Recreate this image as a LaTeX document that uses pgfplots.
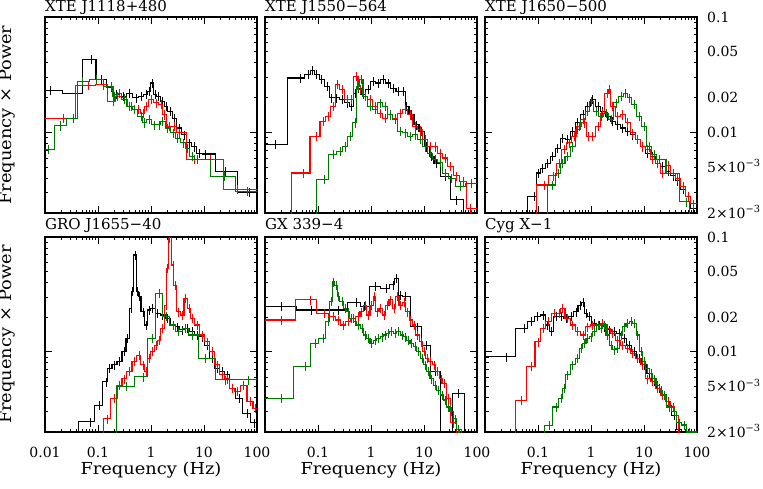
\documentclass[border=0pt]{standalone}
\usepackage{fontspec}
\setmainfont{DejaVu Serif}
\newfontfamily\lblfont{DejaVu Serif}[FakeStretch=1.08]
\usepackage{pgfplots}
\pgfplotsset{compat=1.18}
\definecolor{pgreen}{RGB}{0,120,0}
\definecolor{pred}{RGB}{255,0,0}

\begin{document}
\fontsize{14}{16}\selectfont
\begin{tikzpicture}[font=\fontsize{14}{16}\selectfont]
\path[use as bounding box] (0,0) rectangle (763pt,488pt);

% ---------------- XTE J1118+480
\begin{axis}[xmode=log, ymode=log, scale only axis, width=212pt, height=196pt,
  xmin=0.01, xmax=100, ymin=0.002, ymax=0.1,
  xtick={0.01,0.1,1,10,100},
  minor xtick={0.02,0.03,0.04,0.05,0.06,0.07,0.08,0.09,0.2,0.3,0.4,0.5,0.6,0.7,0.8,0.9,2,3,4,5,6,7,8,9,20,30,40,50,60,70,80,90},
  ytick={0.01,0.1},
  minor ytick={0.003,0.004,0.005,0.006,0.007,0.008,0.009,0.02,0.03,0.04,0.05,0.06,0.07,0.08,0.09},
  xticklabels={}, yticklabels={},
  tick align=inside, major tick length=7pt, minor tick length=3.5pt,
  tick style={black, line width=0.9pt}, axis line style={line width=1.1pt},
  title style={at={(0,1)}, anchor=base west, inner sep=0pt, yshift=-0.5pt, font=\fontsize{15}{17}\selectfont},
  ylabel style={at={(axis description cs:-0.1415,0.5)}, anchor=south, inner sep=0pt, font=\lblfont\fontsize{16.5}{18}\selectfont},
  ylabel={Frequency × Power},
  at={(45pt,275pt)}, anchor=south west, title={XTE J1118+480}]
\addplot[black, line width=1.1pt, const plot mark mid, error bars/.cd, y dir=both, y fixed relative=0.09, error mark=none] table {
0.007 0.0231
0.0124 0.0231
0.0365 0.0219
0.073 0.0427
0.115 0.0286
0.178 0.0247
0.22 0.0212
0.295 0.0205
0.393 0.0219
0.52 0.0199
0.65 0.0205
0.80 0.0212
0.93 0.0227
1.07 0.0268
1.20 0.0212
1.39 0.0205
1.66 0.0186
1.91 0.0168
2.28 0.0152
2.75 0.0133
3.4 0.0109
4.2 0.0095
5.3 0.0081
6.5 0.0075
8.0 0.0066
10.6 0.0065
25.4 0.0046
70 0.0030
130 0.0030
};
\addplot[pred, line width=1.1pt, const plot mark mid, error bars/.cd, y dir=both, y fixed relative=0.09, error mark=none] table {
0.007 0.0133
0.022 0.0133
0.065 0.0254
0.124 0.0258
0.19 0.0186
0.235 0.0205
0.316 0.0192
0.42 0.0168
0.57 0.0157
0.70 0.0147
0.80 0.0168
1.0 0.0192
1.24 0.0180
1.55 0.0174
1.78 0.0142
2.2 0.0113
2.75 0.0113
3.4 0.0099
6.5 0.0058
13.3 0.0058
42 0.0032
130 0.0032
};
\addplot[pgreen, line width=1.1pt, const plot mark mid, error bars/.cd, y dir=both, y fixed relative=0.09, error mark=none] table {
0.007 0.00708
0.0115 0.00708
0.0191 0.0114
0.034 0.0133
0.051 0.0277
0.093 0.0286
0.18 0.0251
0.205 0.0205
0.25 0.0219
0.316 0.0199
0.39 0.0168
0.49 0.0157
0.65 0.0138
0.75 0.0121
0.93 0.0129
1.16 0.0116
1.43 0.0116
1.66 0.0124
2.05 0.0109
2.57 0.0099
3.16 0.0089
4.0 0.0081
4.9 0.0073
6.0 0.0062
7.5 0.0058
23.7 0.00416
64.9 0.00308
130 0.00308
};
\end{axis}

% ---------------- XTE J1550-564
\begin{axis}[xmode=log, ymode=log, scale only axis, width=212pt, height=196pt,
  xmin=0.01, xmax=100, ymin=0.002, ymax=0.1,
  xtick={0.01,0.1,1,10,100},
  minor xtick={0.02,0.03,0.04,0.05,0.06,0.07,0.08,0.09,0.2,0.3,0.4,0.5,0.6,0.7,0.8,0.9,2,3,4,5,6,7,8,9,20,30,40,50,60,70,80,90},
  ytick={0.01,0.1},
  minor ytick={0.003,0.004,0.005,0.006,0.007,0.008,0.009,0.02,0.03,0.04,0.05,0.06,0.07,0.08,0.09},
  xticklabels={}, yticklabels={},
  tick align=inside, major tick length=7pt, minor tick length=3.5pt,
  tick style={black, line width=0.9pt}, axis line style={line width=1.1pt},
  title style={at={(0,1)}, anchor=base west, inner sep=0pt, yshift=-0.5pt, font=\fontsize{15}{17}\selectfont},
  at={(265pt,275pt)}, anchor=south west, title={XTE J1550−564}]
\addplot[black, line width=1.1pt, const plot mark mid, error bars/.cd, y dir=both, y fixed relative=0.09, error mark=none] table {
0.007 0.00781
0.0154 0.00781
0.0457 0.0296
0.066 0.0316
0.079 0.0343
0.094 0.0316
0.117 0.0286
0.146 0.0251
0.181 0.0199
0.225 0.0199
0.28 0.0192
0.35 0.0180
0.43 0.0168
0.50 0.0219
0.58 0.0242
0.72 0.0212
0.89 0.0235
1.11 0.0277
1.38 0.0268
1.71 0.0286
2.13 0.0268
2.65 0.0242
3.3 0.0227
4.1 0.0227
4.7 0.0168
5.8 0.0142
7.2 0.0116
9.0 0.0102
11.2 0.0075
13.9 0.0062
17.2 0.0054
24.9 0.00416
41 0.0026
73 0.0015
130 0.0015
};
\addplot[pred, line width=1.1pt, const plot mark mid, error bars/.cd, y dir=both, y fixed relative=0.09, error mark=none] table {
0.007 0.0015
0.019 0.0015
0.053 0.00444
0.094 0.0092
0.126 0.0125
0.157 0.0138
0.195 0.0168
0.233 0.0259
0.28 0.0234
0.35 0.0192
0.43 0.0192
0.52 0.0306
0.62 0.0234
0.77 0.0205
0.96 0.0192
1.19 0.0168
1.48 0.0147
1.84 0.0133
2.29 0.0142
2.8 0.0133
3.5 0.0147
4.4 0.0157
5.4 0.0142
6.8 0.0113
8.4 0.0105
10.5 0.0087
12.9 0.0075
16.1 0.0075
20 0.0066
24.9 0.0060
31 0.0051
41 0.0042
55 0.00376
73 0.0022
130 0.0022
};
\addplot[pgreen, line width=1.1pt, const plot mark mid, error bars/.cd, y dir=both, y fixed relative=0.09, error mark=none] table {
0.007 0.0015
0.07 0.0015
0.130 0.00389
0.195 0.0064
0.26 0.00684
0.32 0.0075
0.40 0.0092
0.50 0.0121
0.58 0.0251
0.65 0.0286
0.77 0.0205
0.96 0.0168
1.19 0.0157
1.48 0.0180
1.84 0.0168
2.29 0.0142
2.8 0.0129
3.5 0.0102
4.4 0.0099
5.4 0.0092
6.8 0.0095
8.4 0.0087
10.5 0.0075
12.9 0.0066
16.1 0.0058
20 0.0055
25 0.0044
33 0.0040
48 0.0034
79 0.0036
130 0.0036
};
\end{axis}

% ---------------- XTE J1650-500
\begin{axis}[xmode=log, ymode=log, scale only axis, width=212pt, height=196pt,
  xmin=0.01, xmax=100, ymin=0.002, ymax=0.1,
  xtick={0.01,0.1,1,10,100},
  minor xtick={0.02,0.03,0.04,0.05,0.06,0.07,0.08,0.09,0.2,0.3,0.4,0.5,0.6,0.7,0.8,0.9,2,3,4,5,6,7,8,9,20,30,40,50,60,70,80,90},
  ytick={0.01,0.1}, yticklabels={0.01,0.1},
  minor ytick={0.003,0.004,0.006,0.007,0.008,0.009,0.03,0.04,0.06,0.07,0.08,0.09},
  extra y ticks={0.002,0.005,0.02,0.05},
  extra y tick labels={2×10\textsuperscript{−3},5×10\textsuperscript{−3},0.02,0.05},
  extra y tick style={major tick length=3.5pt},
  yticklabel pos=right, ytick pos=both,
  xticklabels={},
  tick align=inside, major tick length=7pt, minor tick length=3.5pt,
  tick style={black, line width=0.9pt}, axis line style={line width=1.1pt},
  yticklabel style={anchor=base west, inner sep=0pt, xshift=10pt, yshift=-5pt},
  title style={at={(0,1)}, anchor=base west, inner sep=0pt, yshift=-0.5pt, font=\fontsize{15}{17}\selectfont},
  at={(485pt,275pt)}, anchor=south west, title={XTE J1650−500}]
\addplot[black, line width=1.1pt, const plot mark mid, error bars/.cd, y dir=both, y fixed relative=0.09, error mark=none] table {
0.007 0.0015
0.048 0.0015
0.085 0.0028
0.101 0.00444
0.122 0.0049
0.152 0.0054
0.189 0.0062
0.235 0.0073
0.292 0.0089
0.363 0.0087
0.45 0.0102
0.56 0.0121
0.70 0.0142
0.865 0.0168
1.07 0.0192
1.34 0.0168
1.66 0.0152
2.06 0.0138
2.56 0.0125
3.18 0.0116
3.96 0.0109
4.9 0.0102
6.1 0.0095
7.6 0.0087
9.4 0.0075
11.7 0.0066
14.5 0.0062
18.1 0.0054
22.5 0.0051
28 0.0046
34.8 0.0042
43 0.0038
54 0.0032
67 0.0028
83 0.0022
130 0.0022
};
\addplot[pred, line width=1.1pt, const plot mark mid, error bars/.cd, y dir=both, y fixed relative=0.09, error mark=none] table {
0.007 0.0015
0.064 0.0015
0.132 0.0035
0.195 0.0042
0.25 0.0054
0.31 0.0071
0.39 0.0081
0.48 0.0092
0.60 0.0113
0.75 0.0121
0.89 0.0092
1.07 0.0092
1.34 0.0113
1.66 0.0147
2.0 0.0219
2.2 0.0234
2.56 0.0168
3.18 0.0138
3.96 0.0142
4.9 0.0121
6.1 0.0099
7.6 0.0087
9.4 0.0075
11.7 0.0071
14.5 0.0058
18.1 0.0054
22.5 0.0044
28 0.0052
34.8 0.0044
43 0.0040
54 0.0034
67 0.0028
83 0.0024
130 0.0024
};
\addplot[pgreen, line width=1.1pt, const plot mark mid, error bars/.cd, y dir=both, y fixed relative=0.09, error mark=none] table {
0.007 0.0015
0.12 0.0015
0.189 0.0035
0.242 0.0044
0.29 0.0054
0.36 0.0062
0.45 0.0075
0.56 0.0106
0.70 0.0129
0.865 0.0152
1.0 0.0186
1.24 0.0152
1.54 0.0138
1.92 0.0147
2.38 0.0129
2.96 0.0180
3.68 0.0205
4.4 0.0219
5.3 0.0199
6.6 0.0174
8.2 0.0138
10.1 0.0113
12.6 0.0075
15.6 0.0064
19.4 0.0058
34.8 0.0044
62 0.0025
83 0.0018
130 0.0018
};
\end{axis}

% ---------------- GRO J1655-40
\begin{axis}[xmode=log, ymode=log, scale only axis, width=212pt, height=195pt,
  xmin=0.01, xmax=100, ymin=0.002, ymax=0.1,
  xtick={0.01,0.1,1,10,100}, xticklabels={0.01,0.1,1,10,100},
  minor xtick={0.02,0.03,0.04,0.05,0.06,0.07,0.08,0.09,0.2,0.3,0.4,0.5,0.6,0.7,0.8,0.9,2,3,4,5,6,7,8,9,20,30,40,50,60,70,80,90},
  ytick={0.01,0.1},
  minor ytick={0.003,0.004,0.005,0.006,0.007,0.008,0.009,0.02,0.03,0.04,0.05,0.06,0.07,0.08,0.09},
  yticklabels={},
  tick align=inside, major tick length=7pt, minor tick length=3.5pt,
  tick style={black, line width=0.9pt}, axis line style={line width=1.1pt},
  xticklabel style={anchor=base, inner sep=0pt, yshift=-25pt},
  title style={at={(0,1)}, anchor=base west, inner sep=0pt, yshift=1.5pt, font=\fontsize{15}{17}\selectfont},
  ylabel style={at={(axis description cs:-0.1415,0.5)}, anchor=south, inner sep=0pt, font=\lblfont\fontsize{16.5}{18}\selectfont},
  ylabel={Frequency × Power},
  xlabel style={at={(axis description cs:0.5,0)}, anchor=base, inner sep=0pt, yshift=-42pt, font=\lblfont\fontsize{16.5}{18}\selectfont},
  xlabel={Frequency (Hz)},
  at={(45pt,56pt)}, anchor=south west, title={GRO J1655−40}]
\addplot[black, line width=1.1pt, const plot mark mid, error bars/.cd, y dir=both, y fixed relative=0.09, error mark=none] table {
0.007 0.0015
0.0255 0.0015
0.07 0.00245
0.107 0.00343
0.143 0.00547
0.165 0.00716
0.205 0.0077
0.255 0.0082
0.316 0.0100
0.36 0.0131
0.42 0.0239
0.45 0.0334
0.50 0.0697
0.55 0.0334
0.60 0.0302
0.70 0.0223
0.80 0.0171
0.93 0.0231
1.07 0.0239
1.33 0.0216
1.66 0.0209
2.05 0.0195
2.57 0.0171
3.16 0.0165
3.9 0.0155
4.9 0.0160
6.0 0.0150
7.5 0.0140
9.3 0.0135
11.5 0.0114
14.3 0.0088
17.8 0.0072
22 0.0067
27 0.0063
34 0.0048
46 0.0039
64 0.0029
90 0.0024
130 0.0024
};
\addplot[pred, line width=1.1pt, const plot mark mid, error bars/.cd, y dir=both, y fixed relative=0.09, error mark=none] table {
0.007 0.0015
0.11 0.0015
0.15 0.0026
0.205 0.0039
0.255 0.0051
0.316 0.0058
0.39 0.0067
0.49 0.0082
0.59 0.0093
0.70 0.0077
0.80 0.0067
0.93 0.0088
1.07 0.0100
1.23 0.0114
1.43 0.0126
1.66 0.0160
1.9 0.0255
2.05 0.0533
2.2 0.097
2.3 0.11
2.57 0.057
2.8 0.038
3.3 0.0223
3.9 0.0209
4.5 0.0292
5.2 0.0239
6.0 0.0195
7.5 0.0171
9.3 0.0140
11.5 0.0122
14.3 0.0100
17.8 0.0077
22 0.0063
27 0.0058
34 0.0048
42 0.0045
56 0.0051
75 0.0037
94 0.0032
130 0.0032
};
\addplot[pgreen, line width=1.1pt, const plot mark mid, error bars/.cd, y dir=both, y fixed relative=0.09, error mark=none] table {
0.007 0.0015
0.15 0.0015
0.34 0.00496
0.70 0.00605
1.07 0.0131
1.43 0.0323
1.9 0.0202
2.57 0.0171
3.3 0.0150
4.5 0.0160
6.0 0.0140
10.7 0.0088
25.6 0.0057
69 0.0057
130 0.0057
};
\end{axis}

% ---------------- GX 339-4
\begin{axis}[xmode=log, ymode=log, scale only axis, width=212pt, height=195pt,
  xmin=0.01, xmax=100, ymin=0.002, ymax=0.1,
  xtick={0.01,0.1,1,10,100}, xticklabels={,0.1,1,10,100},
  minor xtick={0.02,0.03,0.04,0.05,0.06,0.07,0.08,0.09,0.2,0.3,0.4,0.5,0.6,0.7,0.8,0.9,2,3,4,5,6,7,8,9,20,30,40,50,60,70,80,90},
  ytick={0.01,0.1},
  minor ytick={0.003,0.004,0.005,0.006,0.007,0.008,0.009,0.02,0.03,0.04,0.05,0.06,0.07,0.08,0.09},
  yticklabels={},
  tick align=inside, major tick length=7pt, minor tick length=3.5pt,
  tick style={black, line width=0.9pt}, axis line style={line width=1.1pt},
  xticklabel style={anchor=base, inner sep=0pt, yshift=-25pt},
  title style={at={(0,1)}, anchor=base west, inner sep=0pt, yshift=1.5pt, font=\fontsize{15}{17}\selectfont},
  xlabel style={at={(axis description cs:0.5,0)}, anchor=base, inner sep=0pt, yshift=-42pt, font=\lblfont\fontsize{16.5}{18}\selectfont},
  xlabel={Frequency (Hz)},
  at={(265pt,56pt)}, anchor=south west, title={GX 339−4}]
\addplot[black, line width=1.1pt, const plot mark mid, error bars/.cd, y dir=both, y fixed relative=0.09, error mark=none] table {
0.007 0.0247
0.0206 0.0247
0.076 0.0231
0.24 0.0231
0.52 0.0269
0.75 0.0247
1.19 0.0369
1.9 0.0357
2.62 0.0383
3.0 0.0436
3.5 0.0312
4.4 0.0302
7.3 0.0165
11.1 0.0114
16.1 0.0067
26.8 0.0015
44.5 0.00433
73 0.0015
130 0.0015
};
\addplot[pred, line width=1.1pt, const plot mark mid, error bars/.cd, y dir=both, y fixed relative=0.09, error mark=none] table {
0.007 0.0189
0.0206 0.0189
0.070 0.0283
0.13 0.0216
0.19 0.0202
0.24 0.0189
0.30 0.0171
0.37 0.0183
0.46 0.0195
0.58 0.0202
0.66 0.0223
0.77 0.0255
0.89 0.0209
1.03 0.0255
1.16 0.0302
1.32 0.0223
1.52 0.0239
1.75 0.0209
2.03 0.0255
2.35 0.0283
2.72 0.0239
3.15 0.0302
3.6 0.0255
4.2 0.0270
4.9 0.0223
5.6 0.0189
6.5 0.0171
7.5 0.0140
8.7 0.0122
10.1 0.0100
11.5 0.0088
13.3 0.0082
15.5 0.0077
17.9 0.0067
20.7 0.0058
24 0.0053
29 0.0039
35.5 0.0024
47 0.0019
73 0.0015
130 0.0015
};
\addplot[pgreen, line width=1.1pt, const plot mark mid, error bars/.cd, y dir=both, y fixed relative=0.09, error mark=none] table {
0.007 0.0039
0.0206 0.0039
0.057 0.0074
0.088 0.0118
0.123 0.0131
0.157 0.0183
0.176 0.0273
0.195 0.0407
0.22 0.0381
0.24 0.0302
0.28 0.0273
0.32 0.0239
0.37 0.0223
0.43 0.0195
0.50 0.0183
0.58 0.0171
0.67 0.0160
0.77 0.0140
0.89 0.0131
1.03 0.0118
1.19 0.0126
1.38 0.0131
1.60 0.0135
1.84 0.0140
2.1 0.0145
2.45 0.0150
2.8 0.0145
3.3 0.0150
3.8 0.0140
4.4 0.0135
5.1 0.0126
5.8 0.0118
6.8 0.0111
7.9 0.0100
9.1 0.0088
10.5 0.0077
12.1 0.0067
13.9 0.0058
16.2 0.0051
18.7 0.0046
21.6 0.0042
25 0.0038
29 0.0033
33 0.0030
38.5 0.0026
44.5 0.0021
60 0.0015
130 0.0015
};
\end{axis}

% ---------------- Cyg X-1
\begin{axis}[xmode=log, ymode=log, scale only axis, width=212pt, height=195pt,
  xmin=0.01, xmax=100, ymin=0.002, ymax=0.1,
  xtick={0.01,0.1,1,10,100}, xticklabels={,0.1,1,10,100},
  minor xtick={0.02,0.03,0.04,0.05,0.06,0.07,0.08,0.09,0.2,0.3,0.4,0.5,0.6,0.7,0.8,0.9,2,3,4,5,6,7,8,9,20,30,40,50,60,70,80,90},
  ytick={0.01,0.1}, yticklabels={0.01,0.1},
  minor ytick={0.003,0.004,0.006,0.007,0.008,0.009,0.03,0.04,0.06,0.07,0.08,0.09},
  extra y ticks={0.002,0.005,0.02,0.05},
  extra y tick labels={2×10\textsuperscript{−3},5×10\textsuperscript{−3},0.02,0.05},
  extra y tick style={major tick length=3.5pt},
  yticklabel pos=right, ytick pos=both,
  tick align=inside, major tick length=7pt, minor tick length=3.5pt,
  tick style={black, line width=0.9pt}, axis line style={line width=1.1pt},
  xticklabel style={anchor=base, inner sep=0pt, yshift=-25pt},
  yticklabel style={anchor=base west, inner sep=0pt, xshift=10pt, yshift=-5pt},
  title style={at={(0,1)}, anchor=base west, inner sep=0pt, yshift=1.5pt, font=\fontsize{15}{17}\selectfont},
  xlabel style={at={(axis description cs:0.5,0)}, anchor=base, inner sep=0pt, yshift=-42pt, font=\lblfont\fontsize{16.5}{18}\selectfont},
  xlabel={Frequency (Hz)},
  at={(485pt,56pt)}, anchor=south west, title={Cyg X−1}]
\addplot[black, line width=1.1pt, const plot mark mid, error bars/.cd, y dir=both, y fixed relative=0.09, error mark=none] table {
0.007 0.00903
0.025 0.00903
0.055 0.0160
0.074 0.0183
0.098 0.0202
0.128 0.0209
0.15 0.0171
0.18 0.0150
0.22 0.0202
0.27 0.0202
0.34 0.0195
0.42 0.0202
0.52 0.0223
0.62 0.0255
0.70 0.0270
0.80 0.0216
0.93 0.0202
1.16 0.0177
1.44 0.0171
1.78 0.0165
2.2 0.0155
2.76 0.0150
3.4 0.0145
4.25 0.0131
5.3 0.0114
6.6 0.0100
8.2 0.0088
10.1 0.0077
12.6 0.0065
15.6 0.0055
19.4 0.0048
24 0.0042
30 0.0034
37 0.0028
46 0.0021
57 0.0015
130 0.0015
};
\addplot[pred, line width=1.1pt, const plot mark mid, error bars/.cd, y dir=both, y fixed relative=0.09, error mark=none] table {
0.007 0.0015
0.03 0.0015
0.049 0.00378
0.076 0.0074
0.101 0.0122
0.126 0.0160
0.157 0.0183
0.20 0.0216
0.25 0.0216
0.29 0.0239
0.36 0.0195
0.45 0.0171
0.56 0.0150
0.70 0.0140
0.865 0.0165
1.07 0.0171
1.34 0.0171
1.66 0.0177
2.06 0.0160
2.56 0.0145
3.18 0.0126
3.96 0.0114
4.9 0.0107
6.1 0.0097
7.6 0.0088
9.4 0.0077
11.7 0.0058
14.5 0.0055
18.1 0.0048
22.5 0.0042
28 0.0037
34.8 0.0033
40 0.0028
52 0.0015
130 0.0015
};
\addplot[pgreen, line width=1.1pt, const plot mark mid, error bars/.cd, y dir=both, y fixed relative=0.09, error mark=none] table {
0.007 0.0015
0.11 0.0015
0.164 0.00229
0.218 0.0033
0.27 0.0039
0.31 0.0048
0.36 0.0063
0.45 0.0077
0.56 0.0088
0.65 0.0107
0.75 0.0118
0.865 0.0131
1.0 0.0135
1.16 0.0150
1.34 0.0171
1.54 0.0160
1.78 0.0171
2.06 0.0140
2.38 0.0114
2.76 0.0104
3.18 0.0107
3.68 0.0140
4.25 0.0165
4.9 0.0177
5.7 0.0183
6.6 0.0177
7.6 0.0140
8.8 0.0100
10.1 0.0082
11.7 0.0072
13.5 0.0065
15.6 0.0058
18.1 0.0051
20.9 0.0046
24.2 0.0042
30 0.0033
37 0.0030
46 0.0024
57 0.0023
71 0.0020
130 0.0020
};
\end{axis}
\end{tikzpicture}
\end{document}
